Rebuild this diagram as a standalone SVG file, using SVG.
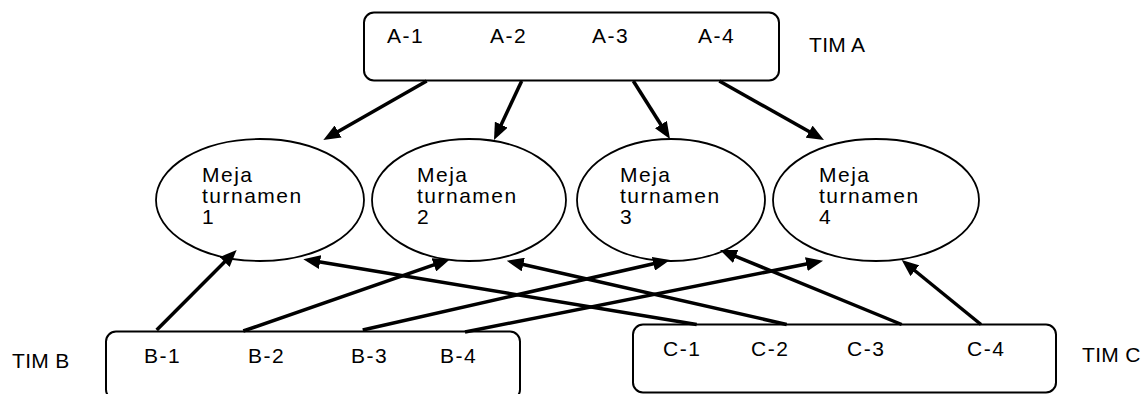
<svg xmlns="http://www.w3.org/2000/svg" width="1144" height="394" viewBox="0 0 1144 394">
  <style>
    .box { fill: #ffffff; stroke: #000000; stroke-width: 2; }
    .table { fill: #ffffff; stroke: #000000; stroke-width: 1.8; }
    .lbl { font-family: "Liberation Sans", Arial, sans-serif; font-size: 21px; letter-spacing: 1.5px; fill: #000000; }
    .team { letter-spacing: 0.3px; }
    .edge { stroke: #000000; stroke-width: 3.5; fill: none; marker-end: url(#head); }
  </style>
  <defs>
    <marker id="head" markerUnits="userSpaceOnUse" markerWidth="17" markerHeight="14" refX="9" refY="7" orient="auto">
      <path d="M0,0 L17,7 L0,14 z" fill="#000000"/>
    </marker>
  </defs>

  <rect width="1144" height="394" fill="#ffffff"/>

  <!-- team A -->
  <g id="team-a">
    <rect class="box" x="364" y="12.5" width="415" height="68" rx="10"/>
    <text class="lbl" x="387" y="43">A-1</text>
    <text class="lbl" x="490" y="43">A-2</text>
    <text class="lbl" x="592" y="43">A-3</text>
    <text class="lbl" x="698" y="43">A-4</text>
    <text class="lbl team" x="809" y="52">TIM A</text>
  </g>

  <!-- tournament tables -->
  <g id="table-1">
    <ellipse class="table" cx="260" cy="200" rx="104" ry="61"/>
    <text class="lbl" x="202" y="182">Meja</text>
    <text class="lbl" x="202" y="203">turnamen</text>
    <text class="lbl" x="202" y="224">1</text>
  </g>
  <g id="table-2">
    <ellipse class="table" cx="469" cy="200" rx="97" ry="61"/>
    <text class="lbl" x="417" y="182">Meja</text>
    <text class="lbl" x="417" y="203">turnamen</text>
    <text class="lbl" x="417" y="224">2</text>
  </g>
  <g id="table-3">
    <ellipse class="table" cx="671" cy="200" rx="94" ry="61"/>
    <text class="lbl" x="620" y="182">Meja</text>
    <text class="lbl" x="620" y="203">turnamen</text>
    <text class="lbl" x="620" y="224">3</text>
  </g>
  <g id="table-4">
    <ellipse class="table" cx="876" cy="200" rx="103" ry="61"/>
    <text class="lbl" x="819" y="182">Meja</text>
    <text class="lbl" x="819" y="203">turnamen</text>
    <text class="lbl" x="819" y="224">4</text>
  </g>

  <!-- team B -->
  <g id="team-b">
    <rect class="box" x="106" y="331.5" width="414" height="68" rx="10"/>
    <text class="lbl" x="144" y="363">B-1</text>
    <text class="lbl" x="248" y="363">B-2</text>
    <text class="lbl" x="351" y="363">B-3</text>
    <text class="lbl" x="440" y="363">B-4</text>
    <text class="lbl team" x="12" y="368">TIM B</text>
  </g>

  <!-- team C -->
  <g id="team-c">
    <rect class="box" x="633" y="324.5" width="423" height="68" rx="10"/>
    <text class="lbl" x="663" y="356">C-1</text>
    <text class="lbl" x="751" y="356">C-2</text>
    <text class="lbl" x="847" y="356">C-3</text>
    <text class="lbl" x="967" y="356">C-4</text>
    <text class="lbl team" x="1082" y="362">TIM C</text>
  </g>

  <!-- player-to-table connectors -->
  <g id="connectors">
    <line class="edge" x1="426.7" y1="81" x2="330.3" y2="136"/>
    <line class="edge" x1="521.7" y1="81" x2="497.4" y2="132.8"/>
    <line class="edge" x1="633.3" y1="81" x2="665.7" y2="132.2"/>
    <line class="edge" x1="719.3" y1="81" x2="817" y2="136.1"/>

    <line class="edge" x1="156.7" y1="330" x2="231" y2="255.6"/>
    <line class="edge" x1="243.3" y1="331" x2="442.4" y2="261.9"/>
    <line class="edge" x1="362.7" y1="330" x2="662.2" y2="261.8"/>
    <line class="edge" x1="465" y1="332" x2="815.2" y2="262.3"/>

    <line class="edge" x1="696.7" y1="324.5" x2="311.2" y2="260.6"/>
    <line class="edge" x1="786.7" y1="324.5" x2="514.5" y2="262.5"/>
    <line class="edge" x1="901.7" y1="324.5" x2="727.4" y2="253"/>
    <line class="edge" x1="981" y1="324.5" x2="907.9" y2="265"/>
  </g>
</svg>
